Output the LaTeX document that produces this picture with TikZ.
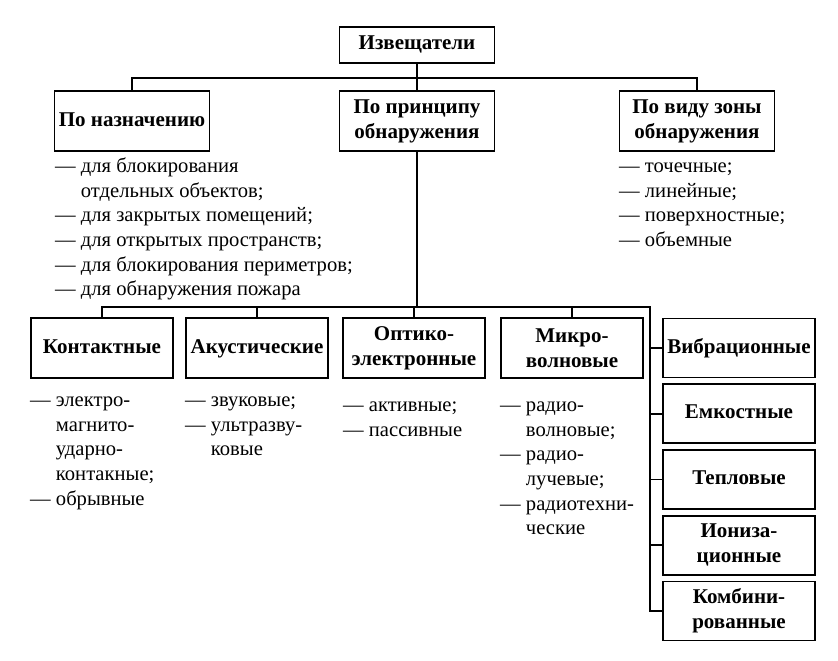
\documentclass[tikz,border=0pt]{standalone}
\usepackage{fontspec}
\setmainfont{Liberation Serif}
\usetikzlibrary{positioning}
\tikzstyle{box}=[draw,line width=1.8pt,align=center,inner sep=2pt,
  font=\fontsize{21}{25}\selectfont\bfseries]
\tikzstyle{head}=[box,minimum width=155pt,minimum height=36pt]
\tikzstyle{kind}=[box,minimum width=155pt,minimum height=60pt]
\tikzstyle{sub}=[box,minimum width=142pt,minimum height=60pt]
\tikzstyle{side}=[box,minimum width=152pt,minimum height=59pt]
\tikzstyle{list}=[anchor=north west,inner sep=0pt,align=left,
  font=\fontsize{20.6}{24.7}\selectfont]
\tikzstyle{link}=[line width=1.8pt]
\newcommand\dsh{\strut—\ }
\newcommand\nodsh{\strut\phantom{—\ }}

\begin{document}
\begin{tikzpicture}[x=1pt, y=-1pt, on grid, node distance=65.75pt]
  \useasboundingbox (0,0) rectangle (838,661);
  \node[head]                      (izv)   at (417,45) {\strut Извещатели};
  \node[kind, below=76pt of izv]   (princ) {По принципу\\обнаружения};
  \node[kind, left=285pt of princ] (nazn)  {\strut По назначению};
  \node[kind, right=280pt of princ](zona)  {По виду зоны\\обнаружения};

  \node[sub]                        (kont)  at (102,348) {\strut Контактные};
  \node[sub, right=155pt of kont]   (akust) {\strut Акустические};
  \node[sub, right=157pt of akust]  (optik) {Оптико-\\электронные};
  \node[sub, right=158pt of optik]  (mikro) {Микро-\\волновые};

  \node[side]              (vibr) at (739,348) {\strut Вибрационные};
  \node[side, below=of vibr] (emk)  {\strut Емкостные};
  \node[side, below=of emk]  (tepl) {\strut Тепловые};
  \node[side, below=of tepl] (ion)  {Иониза-\\ционные};
  \node[side, below=of ion]  (komb) {Комбини-\\рованные};

  \coordinate (top) at (417,78);
  \coordinate (bus) at (650,307);

  \draw[link] (izv.south) -- (princ.north);
  \draw[link] (nazn.north) |- (top) -| (zona.north);
  \draw[link] (princ.south) -- (princ.south |- bus);
  \draw[link] (kont.north) |- (bus) |- (komb.west);
  \foreach \n in {akust,optik,mikro}
    \draw[link] (\n.north) -- (\n.north |- bus);
  \foreach \n in {vibr,emk,tepl,ion}
    \draw[link] (\n.west) -- (\n.west -| bus);

  \node[list] (naznlist) at (55,155) {\dsh для блокирования\\\nodsh отдельных объектов;\\
    \dsh для закрытых помещений;\\\dsh для открытых пространств;\\
    \dsh для блокирования периметров;\\\dsh для обнаружения пожара};
  \node[list] (zonalist) at (619,155) {\dsh точечные;\\\dsh линейные;\\
    \dsh поверхностные;\\\dsh объемные};
  \node[list] (kontlist) at (30,389) {\dsh электро-\\\nodsh магнито-\\
    \nodsh ударно-\\\nodsh контакные;\\\dsh обрывные};
  \node[list] (akustlist) at (185,389) {\dsh звуковые;\\\dsh ультразву-\\\nodsh ковые};
  \node[list] (optiklist) at (343,394) {\dsh активные;\\\dsh пассивные};
  \node[list] (mikrolist) at (500,394) {\dsh радио-\\\nodsh волновые;\\
    \dsh радио-\\\nodsh лучевые;\\\dsh радиотехни-\\\nodsh ческие};
\end{tikzpicture}
\end{document}
